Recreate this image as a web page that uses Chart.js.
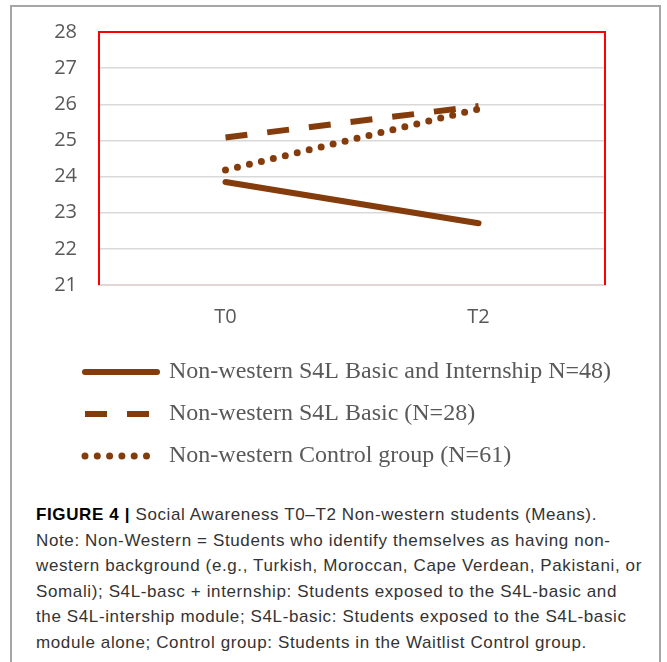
<!DOCTYPE html>
<html>
<head>
<meta charset="utf-8">
<script src="https://cdn.jsdelivr.net/npm/chart.js@4.4.1/dist/chart.umd.min.js"></script>
<style>
  body { margin: 0; background: #fff; }
  #frame {
    position: absolute; left: 10px; top: 5px; width: 651px; height: 700px;
    border: 2px solid #a6a6a6; border-bottom: none; box-sizing: border-box;
  }
  #chartBox { position: absolute; left: 12px; top: -2px; width: 648px; height: 480px; }
  #chartBox canvas { display: block; }
  #caption {
    position: absolute; left: 36px; top: 502px; width: 625px;
    font-family: "Liberation Sans", Arial, sans-serif;
    font-size: 17px; line-height: 25.6px; color: #333; white-space: nowrap;
    letter-spacing: 0.62px;
  }
  #caption b { color: #000; }
</style>
</head>
<body>
<div id="frame"></div>
<div id="chartBox"><canvas id="line-chart" width="648" height="480"></canvas></div>
<div id="caption">
<b>FIGURE 4 |</b> Social Awareness T0–T2 Non-western students (Means).<br>
Note: Non-Western = Students who identify themselves as having non-<br>
western background (e.g., Turkish, Moroccan, Cape Verdean, Pakistani, or<br>
Somali); S4L-basc + internship: Students exposed to the S4L-basic and<br>
the S4L-intership module; S4L-basic: Students exposed to the S4L-basic<br>
module alone; Control group: Students in the Waitlist Control group.
</div>
<script>
var labels = ['T0', 'T2'];
var basicInternship = [23.85, 22.71];
var basicOnly = [25.08, 25.95];
var controlGroup = [24.18, 25.87];
var yTicks = [21, 22, 23, 24, 25, 26, 27, 28];

var brown = '#843c0c';

// red frame on left, top and right of the plot area
var redFrame = {
  id: 'redFrame',
  afterLayout: function(chart) {
    // legend rows start further right and may run past the plot
    chart.legend.left = 55;
    chart.legend.right = chart.width;
    chart.legend.width = chart.width - 55;
  },
  beforeDatasetsDraw: function(chart) {
    var a = chart.chartArea, ctx = chart.ctx;
    ctx.save();
    ctx.strokeStyle = '#ff0000';
    ctx.lineWidth = 2;
    ctx.beginPath();
    ctx.moveTo(a.left, a.bottom);
    ctx.lineTo(a.left, a.top);
    ctx.lineTo(a.right, a.top);
    ctx.lineTo(a.right, a.bottom);
    ctx.stroke();
    ctx.restore();
  }
};

new Chart(document.getElementById('line-chart'), {
  type: 'line',
  data: {
    labels: labels,
    datasets: [{
      label: 'Non-western S4L Basic and Internship N=48)',
      data: basicInternship,
      borderColor: brown,
      backgroundColor: brown,
      borderWidth: 6,
      borderCapStyle: 'round',
      pointRadius: 0,
      fill: false
    }, {
      label: 'Non-western S4L Basic (N=28)',
      data: basicOnly,
      borderColor: brown,
      backgroundColor: brown,
      borderWidth: 6,
      borderDash: [22, 20],
      borderCapStyle: 'butt',
      pointRadius: 0,
      fill: false
    }, {
      label: 'Non-western Control group (N=61)',
      data: controlGroup,
      borderColor: brown,
      backgroundColor: brown,
      borderWidth: 7,
      borderDash: [0, 12.3],
      borderCapStyle: 'round',
      pointRadius: 0,
      fill: false
    }]
  },
  options: {
    responsive: false,
    animation: false,
    layout: { padding: { left: 0, right: 55, top: 0, bottom: 0 } },
    plugins: {
      tooltip: { enabled: false },
      legend: {
        position: 'bottom',
        align: 'start',
        labels: {
          usePointStyle: true,
          pointStyle: 'line',
          pointStyleWidth: 72,
          padding: 18,
          color: '#595959',
          font: { family: '"Liberation Serif", "Times New Roman", serif', size: 24 },
          generateLabels: function(c) {
            var items = Chart.defaults.plugins.legend.labels.generateLabels(c);
            items.forEach(function(it) {
              var ds = c.data.datasets[it.datasetIndex];
              it.lineDash = ds.borderDash || [];
              it.lineCap = ds.borderCapStyle;
              it.lineWidth = ds.borderWidth;
              it.strokeStyle = ds.borderColor;
            });
            return items;
          }
        }
      }
    },
    scales: {
      x: {
        offset: true,
        grid: { display: false, drawTicks: false },
        border: { color: '#e3d6d6', width: 2 },
        ticks: { color: '#595959', padding: 20, font: { family: '"Open Sans", sans-serif', size: 20 } },
        afterFit: function(s) { s.height = 57; }
      },
      y: {
        min: 21,
        max: 28,
        grid: { color: '#d9d9d9', lineWidth: 1.5, drawTicks: false },
        border: { display: false },
        afterBuildTicks: function(s) { s.ticks = yTicks.map(function(v) { return { value: v }; }); },
        ticks: { color: '#595959', padding: 22, font: { family: '"Open Sans", sans-serif', size: 20 } },
        afterFit: function(s) { s.width = 87; }
      }
    }
  },
  plugins: [redFrame]
});
</script>
</body>
</html>
